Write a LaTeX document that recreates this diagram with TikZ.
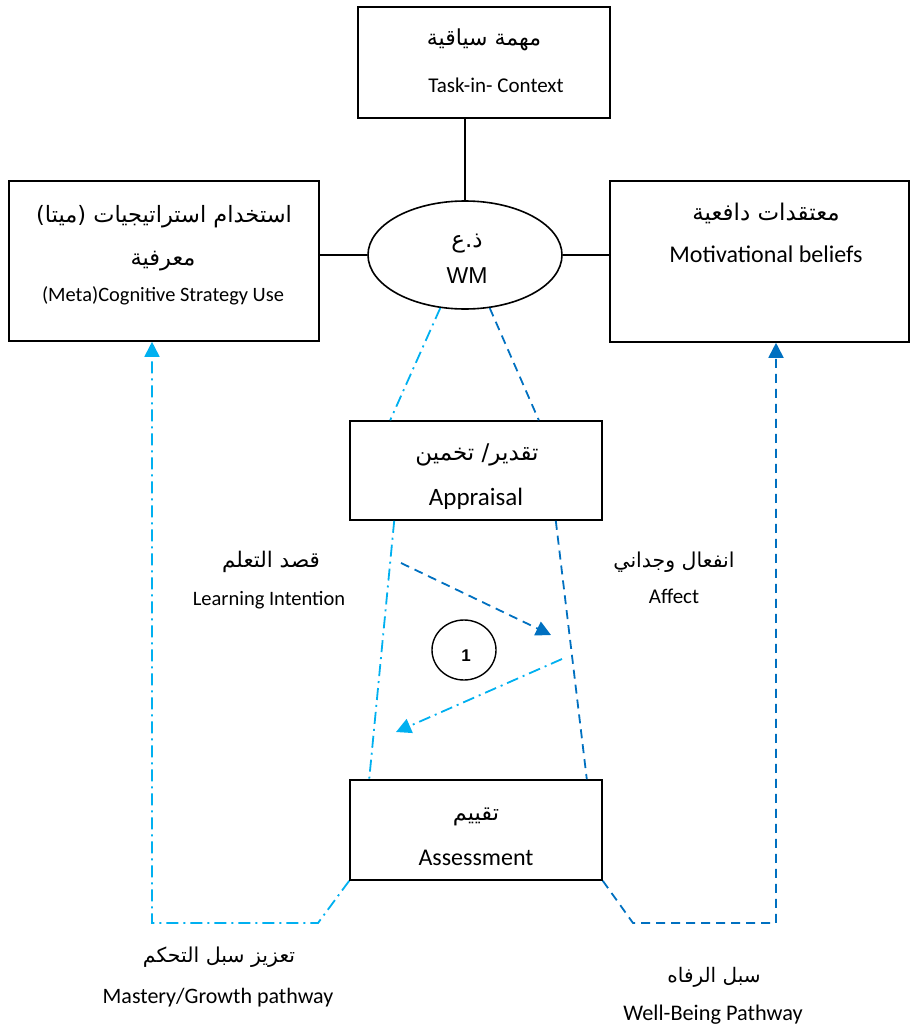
\documentclass[tikz,border=0pt]{standalone}
\usepackage{fontspec}
\usetikzlibrary{arrows.meta,shapes.geometric}
\TeXXeTstate=1
\setmainfont{Carlito}
\newfontfamily\arabicfont[Script=Arabic]{DejaVu Sans}
\newfontfamily\wmfont{Liberation Sans}
\newcommand{\artext}[1]{{\arabicfont\beginR #1\endR}}
\definecolor{cyanline}{HTML}{00B0F0}
\definecolor{blueline}{HTML}{0070C0}
\begin{document}
\begin{tikzpicture}[x=1pt,y=-1pt,
  boxnode/.style={draw, line width=1.6pt, rectangle, inner sep=0pt},
  link/.style={line width=1.6pt},
  dashdotline/.style={draw=cyanline, line width=1.8pt, dash pattern=on 12pt off 5pt on 2pt off 5pt},
  dashline/.style={draw=blueline, line width=1.8pt, dash pattern=on 9pt off 6pt},
  cyantip/.style={-{Triangle[length=15pt,width=15pt,fill=cyanline]}},
  bluetip/.style={-{Triangle[length=15pt,width=15pt,fill=blueline]}},
  artxt/.style={anchor=base, inner sep=0pt, font=\fontsize{#1}{#1}\selectfont},
  latxt/.style={anchor=base, inner sep=0pt, font=\fontsize{#1}{#1}\selectfont},
]
\useasboundingbox (0,0) rectangle (911,1030);

% boxes
\node[boxnode, minimum width=252pt, minimum height=111pt] (task) at (484,62.5) {};
\node[boxnode, minimum width=310pt, minimum height=160pt] (cog) at (164,261) {};
\node[boxnode, minimum width=299pt, minimum height=161pt] (mot) at (759.5,261.5) {};
\node[draw, line width=1.6pt, ellipse, minimum width=194pt, minimum height=108pt, inner sep=0pt] (wm) at (465,255) {};
\node[boxnode, minimum width=252pt, minimum height=99pt] (appr) at (476,470.5) {};
\node[boxnode, minimum width=252pt, minimum height=100pt] (assess) at (476,830) {};
\node[draw, line width=1.4pt, ellipse, minimum width=64pt, minimum height=60pt, inner sep=0pt] (one) at (464,650) {};

% texts
\node[artxt=22] (taskar) at (484,46) {\artext{مهمة سياقية}};
\node[latxt=21] (taskla) at (496,93) {Task-in- Context};
\node[artxt=22.5] (cogar1) at (164,222) {\artext{استخدام استراتيجيات (ميتا)}};
\node[artxt=22.5] (cogar2) at (163,265) {\artext{معرفية}};
\node[latxt=20.4] (cogla) at (163,301) {(Meta)Cognitive Strategy Use};
\node[artxt=23] (motar) at (766,220) {\artext{معتقدات دافعية}};
\node[latxt=24] (motla) at (766,262) {Motivational beliefs};
\node[artxt=23] (wmar) at (467,247) {\artext{ذ.ع}};
\node[anchor=base, inner sep=0pt, font=\wmfont\fontsize{23}{23}\selectfont] (wmla) at (467,283) {WM};
\node[artxt=23] (apprar) at (477,460) {\artext{تقدير/ تخمين}};
\node[latxt=25] (apprla) at (476,505) {Appraisal};
\node[artxt=22.5] (assar) at (476,820) {\artext{تقييم}};
\node[latxt=24] (assla) at (476,865) {Assessment};
\node[artxt=21.5] (learnar) at (271,567) {\artext{قصد التعلم}};
\node[latxt=20.5] (learnla) at (269,605) {Learning Intention};
\node[artxt=20.5] (affar) at (674,567) {\artext{انفعال وجداني}};
\node[latxt=21] (affla) at (674,603) {Affect};
\node[artxt=20.5] (mastar) at (219,962) {\artext{تعزيز سبل التحكم}};
\node[latxt=22] (mastla) at (218,1003) {Mastery/Growth pathway};
\node[artxt=20] (wellar) at (714,982) {\artext{سبل الرفاه}};
\node[latxt=22.3] (wellla) at (713,1020) {Well-Being Pathway};
\node[anchor=base, inner sep=0pt, font=\wmfont\bfseries\fontsize{17}{17}\selectfont] (onela) at (466,661) {1};

% solid links to working memory
\draw[link] (wm.north |- task.south) -- (wm.north);
\draw[link] (wm.west -| cog.east) -- (wm.west);
\draw[link] (wm.east) -- (wm.east -| mot.west);

% working memory to appraisal and appraisal to assessment
\draw[dashdotline] (wm.245) -- ([xshift=41pt]appr.north west);
\draw[dashline] (wm.295) -- ([xshift=-64pt]appr.north east);
\draw[dashdotline] ([xshift=45pt]appr.south west) -- ([xshift=20pt]assess.north west);
\draw[dashline] ([xshift=-47pt]appr.south east) -- ([xshift=-16pt]assess.north east);

% cycle arrows
\coordinate (a1s) at (401,563);
\coordinate (a1e) at (551,635);
\coordinate (a2s) at (562,659);
\coordinate (a2e) at (396,732);
\draw[dashline, bluetip] (a1s) -- (a1e);
\draw[dashdotline, cyantip] (a2s) -- (a2e);

% pathways
\coordinate (ml1) at (318,923);
\coordinate (ml2) at (152,923);
\coordinate (mr1) at (633,923);
\coordinate (mr2) at (776,923);
\draw[dashdotline, cyantip] (assess.south west) -- (ml1) -- (ml2) -- (ml2 |- cog.south);
\draw[dashline, bluetip] (assess.south east) -- (mr1) -- (mr2) -- (mr2 |- mot.south);
\end{tikzpicture}
\end{document}
